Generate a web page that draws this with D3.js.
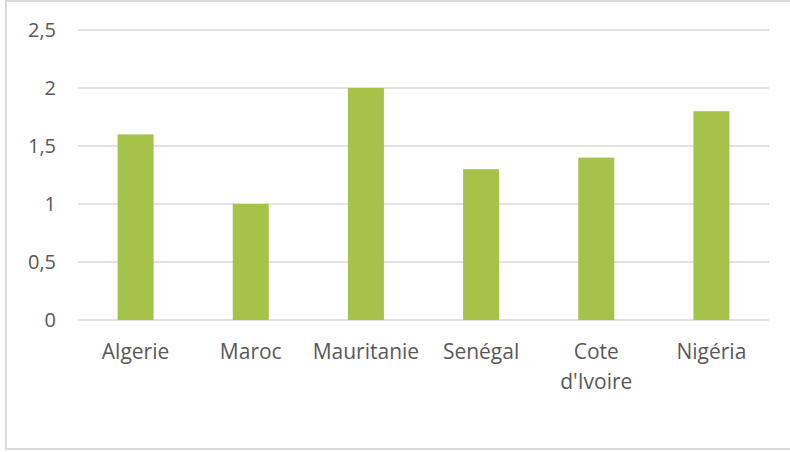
<!DOCTYPE html>
<html><head><meta charset="utf-8">
<script src="https://cdn.jsdelivr.net/npm/d3@7"></script>
<style>html,body{margin:0;padding:0;background:#fff;}svg{display:block;}</style>
</head><body><svg id="c" width="790" height="452"></svg>
<script>
const categories = ["Algerie", "Maroc", "Mauritanie", "Senégal", "Cote d'Ivoire", "Nigéria"];
const labelLines = [["Algerie"], ["Maroc"], ["Mauritanie"], ["Senégal"], ["Cote", "d'Ivoire"], ["Nigéria"]];
const values = [1.6, 1.0, 2.0, 1.3, 1.4, 1.8];
const yTicks = [0, 0.5, 1, 1.5, 2, 2.5];
const yTickLabels = ["0", "0,5", "1", "1,5", "2", "2,5"];

const svg = d3.select("#c");
const font = "'Open Sans', sans-serif";
svg.append("rect").attr("x", 6).attr("y", 1).attr("width", 800).attr("height", 448)
  .attr("fill", "#fff").attr("stroke", "#d9d9d9").attr("stroke-width", 2);

const x = d3.scaleBand().domain(categories).range([78, 769]).paddingInner(0.6875).paddingOuter(0.34375);
const y = d3.scaleLinear().domain([0, 2.5]).range([320, 30]);

const g = svg.append("g");
g.selectAll("line.grid").data(yTicks).enter().append("line")
  .attr("x1", 78).attr("x2", 769).attr("y1", d => y(d)).attr("y2", d => y(d))
  .attr("stroke", "#d9d9d9").attr("stroke-width", 1.5);

g.selectAll("text.yt").data(yTicks).enter().append("text")
  .attr("x", 56).attr("y", d => y(d)).attr("dy", "0.36em").attr("text-anchor", "end")
  .attr("font-family", font).attr("font-size", 20).attr("fill", "#595959")
  .text((d, i) => yTickLabels[i]);

g.selectAll("rect.bar").data(values).enter().append("rect")
  .attr("x", (d, i) => x(categories[i])).attr("width", x.bandwidth())
  .attr("y", d => y(d)).attr("height", d => y(0) - y(d))
  .attr("fill", "#a5c249");

categories.forEach((c, i) => {
  const t = g.append("text").attr("text-anchor", "middle")
    .attr("font-family", font).attr("font-size", 21).attr("fill", "#595959");
  labelLines[i].forEach((ln, j) => {
    t.append("tspan").attr("x", x(c) + x.bandwidth() / 2).attr("y", 359 + j * 30).text(ln);
  });
});
</script></body></html>
